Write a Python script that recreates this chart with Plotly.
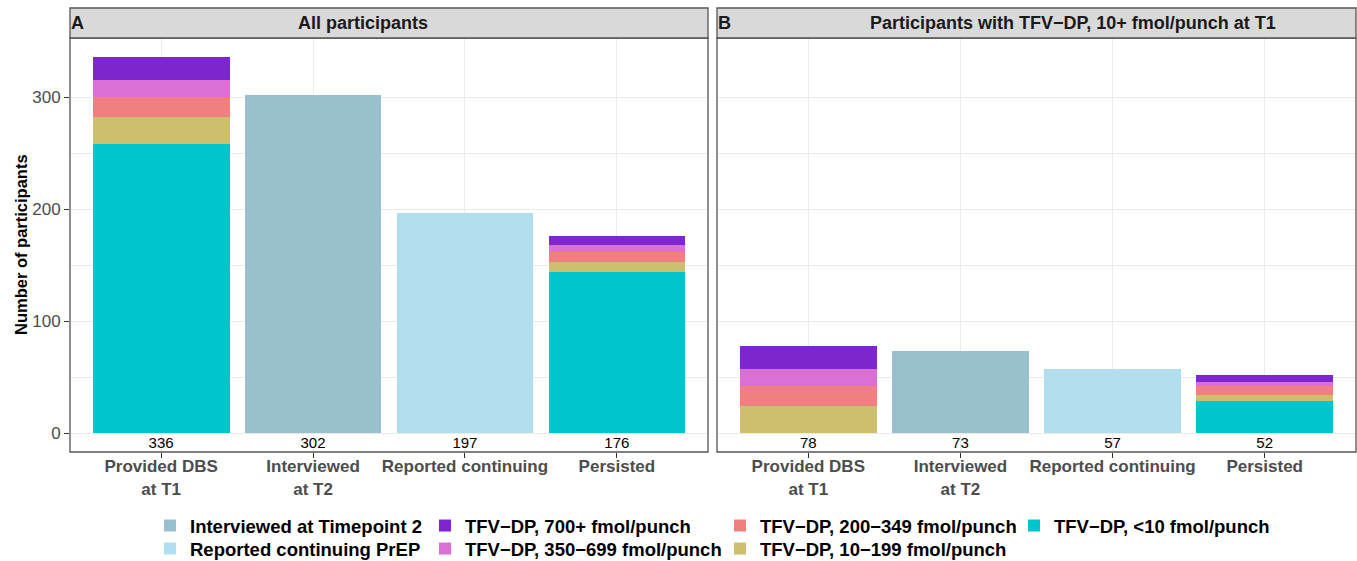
import plotly.graph_objects as go

W, H = 1357, 561

categories = ["Provided DBS<br>at T1", "Interviewed<br>at T2", "Reported continuing", "Persisted"]
y_ticks = [0, 100, 200, 300]

# Panel A: all participants
a_interviewed = [None, 302, None, None]
a_reported = [None, None, 197, None]
a_lt10 = [258, None, None, 144]
a_10_199 = [24, None, None, 9]
a_200_349 = [18, None, None, 9]
a_350_699 = [15, None, None, 6]
a_700 = [21, None, None, 8]
a_totals = [336, 302, 197, 176]

# Panel B: participants with TFV-DP 10+ fmol/punch at T1
b_interviewed = [None, 73, None, None]
b_reported = [None, None, 57, None]
b_lt10 = [None, None, None, 29]
b_10_199 = [24, None, None, 5]
b_200_349 = [18, None, None, 8]
b_350_699 = [15, None, None, 4]
b_700 = [21, None, None, 6]
b_totals = [78, 73, 57, 52]

panel_titles = ["All participants", "Participants with TFV\u2212DP, 10+ fmol/punch at T1"]
panel_tags = ["A", "B"]
y_title = "Number of participants"

series = [
    # name, colour, panelA, panelB
    ("TFV\u2212DP, <10 fmol/punch", "#00C5CD", a_lt10, b_lt10),
    ("TFV\u2212DP, 10\u2212199 fmol/punch", "#CDBE70", a_10_199, b_10_199),
    ("TFV\u2212DP, 200\u2212349 fmol/punch", "#F08080", a_200_349, b_200_349),
    ("TFV\u2212DP, 350\u2212699 fmol/punch", "#DA70D6", a_350_699, b_350_699),
    ("TFV\u2212DP, 700+ fmol/punch", "#7D26CD", a_700, b_700),
    ("Interviewed at Timepoint 2", "#9AC0CD", a_interviewed, b_interviewed),
    ("Reported continuing PrEP", "#B2DFEE", a_reported, b_reported),
]

# legend slot (column, row) for each series, as in the reference's 4x2 key
legend_slots = {
    "Interviewed at Timepoint 2": (0, 0),
    "Reported continuing PrEP": (0, 1),
    "TFV\u2212DP, 700+ fmol/punch": (1, 0),
    "TFV\u2212DP, 350\u2212699 fmol/punch": (1, 1),
    "TFV\u2212DP, 200\u2212349 fmol/punch": (2, 0),
    "TFV\u2212DP, 10\u2212199 fmol/punch": (2, 1),
    "TFV\u2212DP, <10 fmol/punch": (3, 0),
}
legend_col_x = [150, 425, 720, 1014]   # page px (legend box left)
legend_row_y = [526, 549]              # page px (row centre)

FAM = "Liberation Sans, Arial, Helvetica, sans-serif"

px_x = lambda p: p / W
px_y = lambda p: 1 - p / H

fig = go.Figure()
legend_layouts = {}
for idx, (name, col, va, vb) in enumerate(series):
    lg = "legend" if idx == 0 else f"legend{idx + 1}"
    c, r = legend_slots[name]
    legend_layouts[lg] = dict(x=px_x(legend_col_x[c]), xanchor="left", y=px_y(legend_row_y[r]),
                              yanchor="middle", orientation="v", bgcolor="rgba(0,0,0,0)",
                              font=dict(size=18.5, color="#000000", family=FAM, weight="bold"),
                              itemsizing="constant")
    for i, (vals, xa, ya) in enumerate([(va, "x", "y"), (vb, "x2", "y2")]):
        fig.add_trace(go.Bar(
            x=categories, y=vals, name=name, marker=dict(color=col, line=dict(width=0)),
            legend=lg, legendgroup=name, showlegend=(i == 0),
            xaxis=xa, yaxis=ya, hoverinfo="skip"))

for totals, xa, ya in [(a_totals, "x", "y"), (b_totals, "x2", "y2")]:
    fig.add_trace(go.Scatter(
        x=categories, y=[-10] * len(totals), text=[str(t) for t in totals], mode="text",
        textfont=dict(size=15, color="#000000", family=FAM),
        showlegend=False, xaxis=xa, yaxis=ya, cliponaxis=False, hoverinfo="skip"))

panel_x = [(70, 708), (717, 1356)]
title_cx = [363, 1073]   # page px centre of each strip title
plot_top, plot_bot = 38, 452
strip_top = 8

yrange = [-16.8, 352.8]
grid = "#EBEBEB"
tickfont_y = dict(size=17, color="#4D4D4D", family=FAM)
tickfont_x = dict(size=17, color="#4D4D4D", family=FAM, weight="bold")

common_x = dict(type="category", range=[-0.6, 3.6], showgrid=True, gridcolor=grid, gridwidth=1.1,
                ticks="outside", ticklen=5, tickcolor="#333333", tickfont=tickfont_x,
                ticklabelstandoff=-6, automargin=False,
                zeroline=False, showline=False, fixedrange=True)
common_y = dict(range=yrange, tickvals=y_ticks, showgrid=True, gridcolor=grid, gridwidth=1.1,
                minor=dict(tickvals=[50, 150, 250], showgrid=True, gridcolor=grid, gridwidth=0.6),
                zeroline=False, showline=False, automargin=False, fixedrange=True)

fig.update_layout(
    xaxis=dict(domain=[px_x(panel_x[0][0]), px_x(panel_x[0][1])], anchor="y", **common_x),
    xaxis2=dict(domain=[px_x(panel_x[1][0]), px_x(panel_x[1][1])], anchor="y2", **common_x),
    yaxis=dict(domain=[px_y(plot_bot), px_y(plot_top)], anchor="x", ticks="outside", ticklen=5,
               tickcolor="#333333", tickfont=tickfont_y, **common_y),
    yaxis2=dict(domain=[px_y(plot_bot), px_y(plot_top)], anchor="x2", matches="y", showticklabels=False,
                ticks="", **common_y),
    barmode="stack", bargap=0.1,
    plot_bgcolor="white", paper_bgcolor="white",
    width=W, height=H, margin=dict(l=0, r=0, t=0, b=0, autoexpand=False),
    font=dict(family=FAM),
    **legend_layouts,
)

shapes = []
annotations = []
for (x0, x1), cx, title, tag in zip(panel_x, title_cx, panel_titles, panel_tags):
    shapes.append(dict(type="rect", xref="paper", yref="paper", x0=px_x(x0), x1=px_x(x1),
                       y0=px_y(plot_bot), y1=px_y(plot_top), line=dict(color="#555555", width=1.3),
                       fillcolor="rgba(0,0,0,0)", layer="above"))
    shapes.append(dict(type="rect", xref="paper", yref="paper", x0=px_x(x0), x1=px_x(x1),
                       y0=px_y(plot_top), y1=px_y(strip_top), line=dict(color="#555555", width=1.3),
                       fillcolor="#D9D9D9", layer="above"))
    annotations.append(dict(xref="paper", yref="paper", x=px_x(cx), y=px_y((plot_top + strip_top) / 2),
                            text=title, showarrow=False, xanchor="center", yanchor="middle",
                            font=dict(size=18, color="#1A1A1A", family=FAM, weight="bold")))
    annotations.append(dict(xref="paper", yref="paper", x=px_x(x0 - 1), y=px_y((plot_top + strip_top) / 2),
                            text=tag, showarrow=False, xanchor="left", yanchor="middle",
                            font=dict(size=18, color="#1A1A1A", family=FAM, weight="bold")))

annotations.append(dict(xref="paper", yref="paper", x=px_x(21), y=px_y((plot_top + plot_bot) / 2),
                        text=y_title, textangle=-90, showarrow=False, xanchor="center", yanchor="middle",
                        font=dict(size=16.5, color="#000000", family=FAM, weight="bold")))

fig.update_layout(shapes=shapes, annotations=annotations)
fig.write_html("out.html", config={"displayModeBar": False},
               post_script="document.body.style.margin='0';document.body.style.overflow='hidden';")
